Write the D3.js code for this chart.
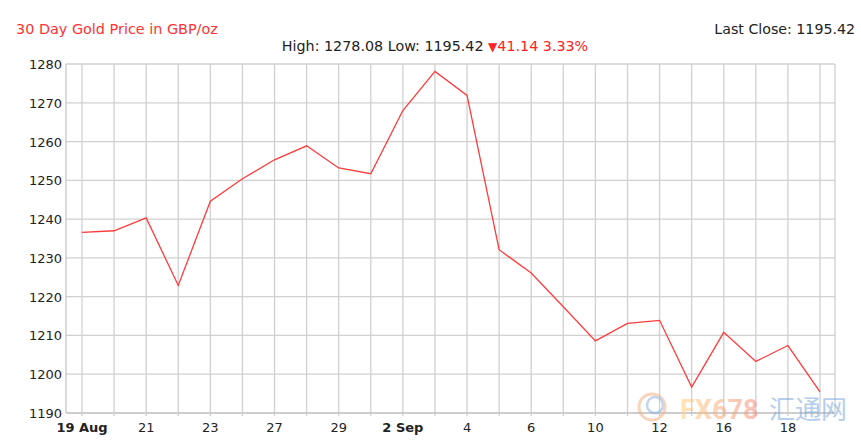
<!DOCTYPE html>
<html>
<head>
<meta charset="utf-8">
<script src="https://cdn.jsdelivr.net/npm/d3@7"></script>
<style>
html,body{margin:0;padding:0;background:#fff;}
svg{display:block;font-family:"DejaVu Sans",Verdana,sans-serif;}
</style>
</head>
<body>
<svg id="c" width="861" height="443"></svg>
<script>
const dates = ["19 Aug","20 Aug","21 Aug","22 Aug","23 Aug","26 Aug","27 Aug","28 Aug","29 Aug","30 Aug",
  "2 Sep","3 Sep","4 Sep","5 Sep","6 Sep","9 Sep","10 Sep","11 Sep","12 Sep","13 Sep","16 Sep","17 Sep","18 Sep","19 Sep"];
const prices = [1236.56,1237.0,1240.3,1222.9,1244.6,1250.4,1255.3,1258.9,1253.2,1251.7,
  1268.0,1278.08,1271.9,1232.1,1226.1,1217.4,1208.6,1213.1,1213.9,1196.7,1210.8,1203.3,1207.4,1195.42];
const xTickLabels = ["19 Aug","","21","","23","","27","","29","","2 Sep","","4","","6","","10","","12","","16","","18",""];
const yTicks = [1190,1200,1210,1220,1230,1240,1250,1260,1270,1280];
const title = "30 Day Gold Price in GBP/oz";
const lastClose = "Last Close: 1195.42";
const high = "1278.08", low = "1195.42", change = "41.14", changePct = "3.33%";

const svg = d3.select("#c");
const L = 66, R = 835, T = 64, B = 413;
const x = d3.scalePoint().domain(dates).range([82, 820]);
const y = d3.scaleLinear().domain([1190, 1280]).range([B, T]);
const grid = "#d0d0d0";

// horizontal grid
svg.append("g").selectAll("line").data(yTicks).join("line")
  .attr("x1", L).attr("x2", R).attr("y1", d => y(d)).attr("y2", d => y(d))
  .attr("stroke", grid).attr("stroke-width", 1.3);
// vertical grid
svg.append("g").selectAll("line").data(dates).join("line")
  .attr("x1", d => x(d)).attr("x2", d => x(d)).attr("y1", T).attr("y2", B + 3)
  .attr("stroke", grid).attr("stroke-width", 1.3);
// border
svg.append("line").attr("x1", R).attr("x2", R).attr("y1", T).attr("y2", B).attr("stroke", grid).attr("stroke-width", 1.3);
svg.append("line").attr("x1", L).attr("x2", L).attr("y1", T).attr("y2", B).attr("stroke", "#c8c8c8").attr("stroke-width", 1.3);
svg.append("line").attr("x1", L).attr("x2", R).attr("y1", B).attr("y2", B).attr("stroke", "#c8c8c8").attr("stroke-width", 1.3);

// y labels
svg.append("g").selectAll("text").data(yTicks).join("text")
  .attr("x", L - 4).attr("y", d => y(d) + 5)
  .attr("text-anchor", "end").attr("font-size", 13).attr("fill", "#222")
  .text(d => d);
// x labels
svg.append("g").selectAll("text").data(dates.map((d, i) => [d, xTickLabels[i]]).filter(d => d[1])).join("text")
  .attr("x", d => x(d[0])).attr("y", 432)
  .attr("text-anchor", "middle").attr("font-size", 13).attr("fill", "#222")
  .attr("font-weight", d => d[1].includes(" ") ? "bold" : "normal")
  .text(d => d[1]);

// watermark
const wm = svg.append("g").attr("opacity", 0.55);
wm.append("circle").attr("cx", 652).attr("cy", 407).attr("r", 13).attr("fill", "none").attr("stroke", "#f4b183").attr("stroke-width", 3);
wm.append("circle").attr("cx", 655).attr("cy", 405).attr("r", 8).attr("fill", "none").attr("stroke", "#8fb4e0").attr("stroke-width", 2.5);
const defs = svg.append("defs");
const lg = defs.append("linearGradient").attr("id", "wg");
lg.append("stop").attr("offset", "0%").attr("stop-color", "#ffd27f");
lg.append("stop").attr("offset", "100%").attr("stop-color", "#f58a7a");
wm.append("text").attr("x", 680).attr("y", 419).attr("font-size", 27).attr("font-weight", "bold")
  .attr("font-family", "Roboto, sans-serif").attr("fill", "url(#wg)").text("FX678");
wm.append("text").attr("x", 769).attr("y", 419).attr("font-size", 26)
  .attr("font-family", "'Noto Sans CJK SC'").attr("fill", "#7aa7dc").text("汇通网");

// line
svg.append("path").datum(prices)
  .attr("fill", "none").attr("stroke", "#ff3b3b").attr("stroke-width", 1.3)
  .attr("d", d3.line().x((d, i) => x(dates[i])).y(d => y(d)));

// titles
svg.append("text").attr("x", 16).attr("y", 34).attr("font-size", 14.4).attr("fill", "#ff3333").text(title);
svg.append("text").attr("x", 855).attr("y", 34).attr("font-size", 14.2).attr("fill", "#222").attr("text-anchor", "end").text(lastClose);
const sub = svg.append("text").attr("x", 435).attr("y", 51).attr("font-size", 14.3).attr("text-anchor", "middle");
sub.append("tspan").attr("fill", "#222").text(`High: ${high} Low: ${low} `);
sub.append("tspan").attr("fill", "#ff2222").attr("font-size", 12).text("▼");
sub.append("tspan").attr("fill", "#ff2222").text(`${change} ${changePct}`);
</script>
</body>
</html>
